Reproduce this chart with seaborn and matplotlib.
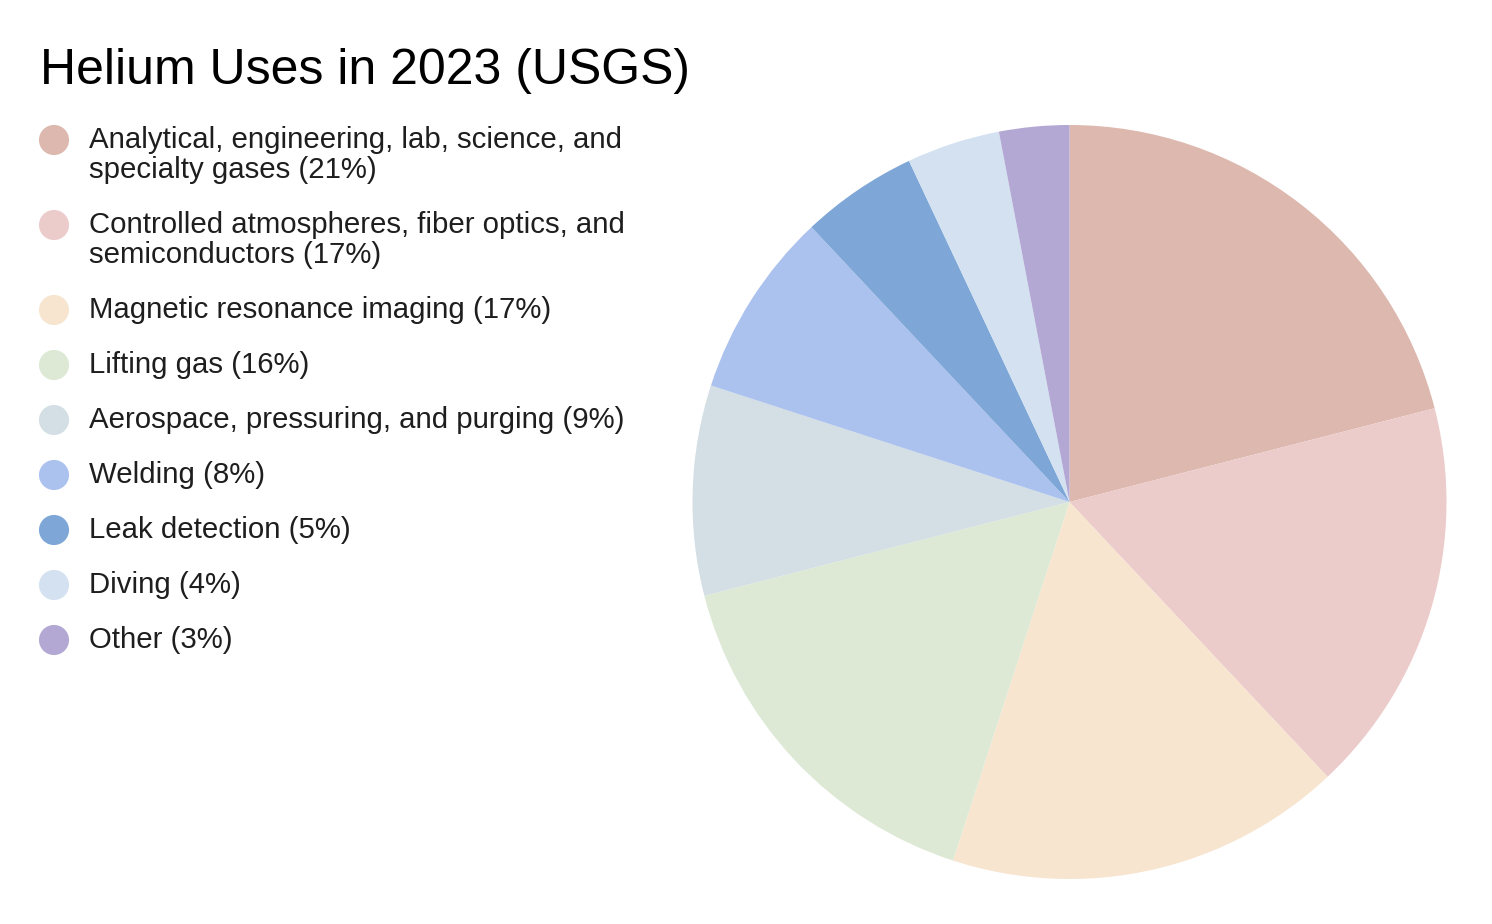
import matplotlib
matplotlib.use("Agg")
import matplotlib.pyplot as plt
import seaborn as sns

# data
categories = [
    "Analytical, engineering, lab, science, and\nspecialty gases (21%)",
    "Controlled atmospheres, fiber optics, and\nsemiconductors (17%)",
    "Magnetic resonance imaging (17%)",
    "Lifting gas (16%)",
    "Aerospace, pressuring, and purging (9%)",
    "Welding (8%)",
    "Leak detection (5%)",
    "Diving (4%)",
    "Other (3%)",
]
shares = [21, 17, 17, 16, 9, 8, 5, 4, 3]
slice_colors = ["#DDB8AE", "#ECCBCB", "#F7E5D0", "#DDE9D5", "#D3DFE4",
                "#ABC1EE", "#7EA7D7", "#D3E1F1", "#B3A8D3"]

sns.set_theme(style="white")
plt.rcParams["font.family"] = ["Liberation Sans", "DejaVu Sans"]
palette = sns.color_palette(slice_colors)

W, H = 1492, 924
fig = plt.figure(figsize=(W / 100, H / 100), dpi=100)
fig.patch.set_facecolor("white")

# pie, centred at (1069, 502) px with radius ~377 px
cx, cy, r = 1069.5, 502, 377
ax = fig.add_axes([(cx - r) / W, (H - cy - r) / H, 2 * r / W, 2 * r / H])
ax.pie(shares, colors=palette, startangle=90, counterclock=False,
       radius=1, wedgeprops=dict(linewidth=0))
ax.set_xlim(-1, 1)
ax.set_ylim(-1, 1)
ax.set_aspect("equal")
ax.axis("off")

# overlay in pixel coordinates for title and legend
ov = fig.add_axes([0, 0, 1, 1], zorder=5)
ov.set_xlim(0, W)
ov.set_ylim(H, 0)
ov.axis("off")
ov.patch.set_alpha(0)

ov.text(40, 84, "Helium Uses in 2023 (USGS)", fontsize=36, color="black",
        ha="left", va="baseline")

y = 148
for label, col in zip(categories, palette):
    ov.scatter([54], [y - 8], s=470, color=col, edgecolors="none")
    lines = label.split("\n")
    for i, line in enumerate(lines):
        ov.text(89, y + 30 * i, line, fontsize=21.2, color="#1e1e1e",
                ha="left", va="baseline")
    y += 30 * (len(lines) - 1) + 55

fig.savefig("out.png", dpi=100, facecolor="white")
